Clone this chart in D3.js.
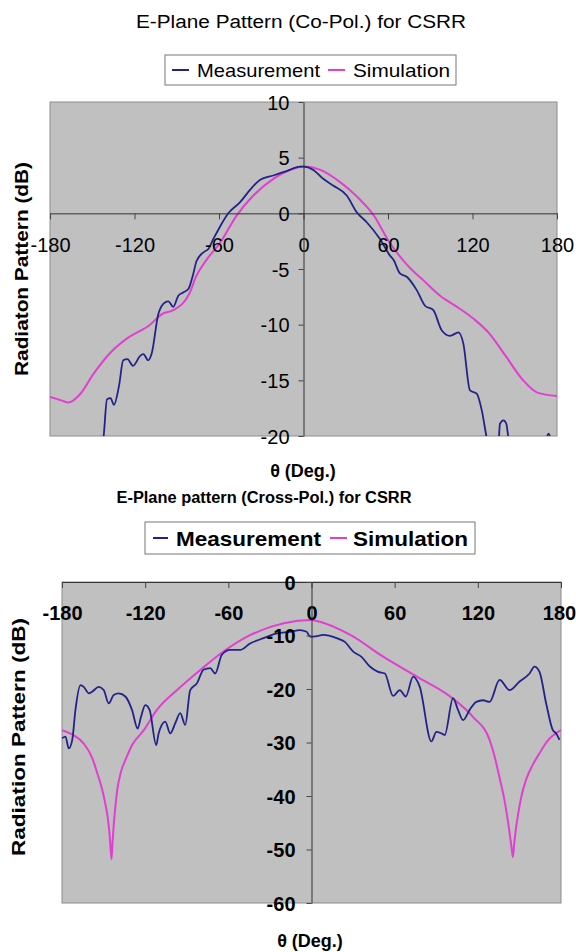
<!DOCTYPE html>
<html><head><meta charset="utf-8">
<script src="https://cdn.jsdelivr.net/npm/d3@7"></script>
<style>
body{margin:0;background:#fff}
svg{display:block}
text{font-family:"Liberation Sans",Arial,sans-serif;fill:#000}
</style>
</head><body>
<svg id="c" width="576" height="952"></svg>
<script>
// ---------- DATA ----------
const xTicks = [-180, -120, -60, 0, 60, 120, 180];
const coYTicks = [10, 5, 0, -5, -10, -15, -20];
const crossYTicks = [0, -10, -20, -30, -40, -50, -60];
const seriesNames = ["Measurement", "Simulation"];

// Co-pol measurement (angle, dB)
const coMeasAngle = [-150, -146, -142, -139.5, -137, -134.6, -131, -128, -125, -121, -116, -113.7, -110.2, -107.8, -103, -98.4, -96, -92.5, -88.9, -85.4, -81.8, -78.2, -76, -71, -67.6, -64, -59.3, -53.4, -45, -38, -31, -21.4, -12, -2.5, 0, 7, 14, 21, 30.7, 37.8, 44.9, 54.3, 61.4, 64, 68.5, 73.3, 80.4, 86.3, 92.2, 98.1, 104, 110, 113.5, 118.2, 123, 126.6, 130, 134, 138.3, 139.5, 142, 144, 145.4, 148, 160, 170, 172, 174, 176, 180];
const coMeasDb = [-25, -22, -20.1, -16.7, -16.6, -17.2, -15.5, -13.2, -13.1, -13.7, -12.8, -12.65, -13.2, -12.6, -9.0, -8.0, -7.9, -8.4, -7.4, -7.1, -6.8, -5.4, -4.3, -3.5, -3.2, -2.3, -1.2, 0.0, 1.0, 2.1, 3.0, 3.4, 3.8, 4.2, 4.2, 3.9, 3.1, 2.5, 1.6, 0.1, -0.8, -2.3, -3.8, -4.2, -5.4, -5.7, -6.9, -8.3, -8.7, -10.5, -11.0, -10.7, -11.7, -15.9, -16.2, -17.7, -20.1, -22, -21, -18.9, -18.6, -18.9, -20.1, -22, -23, -21, -20.4, -19.8, -20.4, -22];

// Co-pol simulation
const coSimAngle = [-180, -172, -167, -159, -149, -137, -126, -109, -100, -92.5, -81, -76, -69, -59, -47.5, -35.6, -21.4, -7, 0, 12, 26, 38, 50, 61, 72, 78, 85, 97, 109, 121, 132, 144, 156, 166, 180];
const coSimDb = [-16.5, -16.8, -17.0, -16.3, -14.4, -12.5, -11.3, -10.0, -9.0, -8.7, -7.2, -5.6, -4.2, -2.6, -0.2, 1.6, 3.1, 4.0, 4.2, 3.9, 2.8, 1.5, -0.2, -2.6, -4.4, -5.2, -6.0, -7.4, -8.4, -9.5, -10.8, -12.9, -15.0, -16.1, -16.4];

// Cross-pol measurement
const crMeasAngle = [-179.9, -177.5, -175.1, -172.6, -170.3, -166.7, -164.3, -160.7, -158.3, -153.5, -149.9, -146.3, -142.7, -139.1, -134.3, -129.5, -125.4, -123, -119.9, -116.8, -112, -110.3, -105.5, -101.9, -98.3, -94.7, -91.1, -87.5, -82.6, -77.9, -73.1, -69.5, -64.7, -58.7, -51.5, -44.3, -34.7, -25, -15.5, -8.3, -3.5, -1, 1.3, 8.5, 18.1, 24.1, 30.1, 36.1, 42.1, 48.1, 52.9, 58.9, 63.7, 68, 73.3, 78.1, 86.5, 90.1, 93.7, 96.1, 102.1, 105.7, 109.3, 114.1, 118.9, 123.7, 128.5, 135.7, 142.9, 150.1, 157.3, 160.9, 164.5, 169.3, 174.1, 176.5, 178.9];
const crMeasDb = [-29.2, -28.9, -31.1, -29.5, -23.9, -19.3, -19.6, -20.8, -20.5, -19.6, -20.2, -22.7, -21.1, -20.8, -21.4, -23.9, -27.4, -25.2, -23.0, -23.9, -30.5, -28.3, -26.1, -28.3, -26.4, -24.5, -26.7, -20.2, -18.9, -16.4, -16.1, -17.1, -13.6, -12.7, -12.7, -11.5, -10.5, -9.6, -9.3, -9.0, -9.3, -10.2, -10.2, -9.9, -10.5, -11.2, -13.0, -14.0, -15.8, -16.8, -17.1, -21.3, -20.2, -21.4, -17.7, -19.6, -29.8, -28.0, -28.3, -28.6, -21.7, -23.9, -25.8, -23.9, -22.4, -22.1, -22.4, -18.3, -20.2, -18.6, -17.1, -15.8, -16.8, -22.7, -27.7, -28.3, -29.5];

// Cross-pol simulation
const crSimAngle = [-180, -172, -164.3, -158, -154.6, -151, -148.7, -147, -146, -145.2, -144.3, -143.5, -142.7, -141.5, -140.2, -137.5, -134.3, -129.5, -121, -111.5, -97, -80, -63.5, -44, -20, 0, 4, 28, 52, 76, 100, 116.5, 128.5, 132, 135.6, 139, 141.6, 143.5, 144.5, 145.3, 146.2, 147.3, 149, 151.5, 155, 160, 164.5, 170, 180];
const crSimDb = [-27.7, -28.6, -30.2, -33.0, -35.7, -38.8, -41.5, -44.0, -46.3, -48.8, -51.8, -48.5, -45.5, -42.0, -39.0, -35.5, -33.3, -30.5, -27.7, -23.9, -20.2, -16.4, -13.0, -9.9, -7.7, -7.1, -7.3, -9.9, -14.0, -17.7, -21.4, -25.2, -29.5, -32.5, -36.5, -40.5, -44.5, -48.0, -50.0, -51.4, -49.0, -46.5, -43.5, -40.0, -36.8, -34.0, -32.0, -29.8, -27.7];

// ---------- DRAW ----------
const measColor = "#22228a";
const simColor = "#e03fd0";
const FONT = '"Liberation Sans",Arial,sans-serif';
const svg = d3.select("#c");
const defs = svg.append("defs");

function pts(a, b) { return a.map((v, i) => [v, b[i]]); }

function chart(o) {
  const x = d3.scaleLinear().domain([-180, 180]).range([o.l, o.r]);
  const y = d3.scaleLinear().domain(o.yDom).range([o.b, o.t]);
  const g = svg.append("g");
  g.append("rect").attr("x", o.l).attr("y", o.t).attr("width", o.r - o.l).attr("height", o.b - o.t)
    .attr("fill", "#c0c0c0").attr("stroke", "#8c8c8c").attr("stroke-width", 1);
  defs.append("clipPath").attr("id", o.id).append("rect")
    .attr("x", o.l).attr("y", o.t).attr("width", o.r - o.l).attr("height", o.b - o.t);

  const line = d3.line().curve(d3.curveMonotoneX).x(d => x(d[0])).y(d => y(d[1]));
  const lg = g.append("g").attr("clip-path", `url(#${o.id})`);
  lg.append("path").datum(pts(o.simA, o.simD)).attr("d", line).attr("fill", "none")
    .attr("stroke", simColor).attr("stroke-width", 2).attr("stroke-linejoin", "round");
  lg.append("path").datum(pts(o.measA, o.measD)).attr("d", line).attr("fill", "none")
    .attr("stroke", measColor).attr("stroke-width", 1.8).attr("stroke-linejoin", "round");

  // x axis
  const xa = g.append("g").attr("transform", `translate(0,${y(o.xAxisAt)})`)
    .call(d3.axisBottom(x).tickValues(xTicks).tickSize(6).tickSizeOuter(0).tickFormat(d => String(d)));
  xa.select(".domain").attr("stroke", "#333");
  xa.selectAll(".tick line").attr("stroke", "#444");
  xa.selectAll(".tick text").attr("y", o.xLabY - y(o.xAxisAt)).attr("dy", 0)
    .attr("dx", d => d === 180 ? o.lastDx : 0)
    .style("font-size", o.tickFS + "px").style("font-weight", o.bold ? "bold" : "normal")
    .style("font-family", FONT).attr("fill", "#000");

  // y axis
  const ya = g.append("g").attr("transform", `translate(${x(0)},0)`)
    .call(d3.axisLeft(y).tickValues(o.yTicks).tickSize(5).tickSizeOuter(0).tickPadding(o.yPad).tickFormat(d => String(d)));
  ya.select(".domain").attr("stroke", "#333");
  ya.selectAll(".tick line").attr("stroke", "#444");
  ya.selectAll(".tick text").style("font-size", o.tickFS + "px").style("font-weight", o.bold ? "bold" : "normal")
    .style("font-family", FONT).attr("fill", "#000").attr("dy", "0.36em");
  return { x, y };
}

// Top chart
svg.append("text").attr("x", 301).attr("y", 28).attr("text-anchor", "middle")
  .style("font-size", "18px").attr("textLength", 330).attr("lengthAdjust", "spacingAndGlyphs")
  .text("E-Plane Pattern (Co-Pol.) for CSRR");

chart({ id: "c1", l: 50, r: 557, t: 102, b: 436, yDom: [-20, 10], xAxisAt: 0, xLabY: 252,
  yTicks: coYTicks, yPad: 9, tickFS: 20, bold: false, lastDx: 0,
  measA: coMeasAngle, measD: coMeasDb, simA: coSimAngle, simD: coSimDb });

// Legend top
svg.append("rect").attr("x", 165).attr("y", 55).attr("width", 291).attr("height", 30)
  .attr("fill", "#fff").attr("stroke", "#777");
svg.append("line").attr("x1", 172).attr("x2", 189).attr("y1", 70).attr("y2", 70).attr("stroke", measColor).attr("stroke-width", 2);
svg.append("text").attr("x", 197).attr("y", 77).style("font-size", "19px")
  .attr("textLength", 123).attr("lengthAdjust", "spacingAndGlyphs").text(seriesNames[0]);
svg.append("line").attr("x1", 328).attr("x2", 345).attr("y1", 70).attr("y2", 70).attr("stroke", simColor).attr("stroke-width", 2);
svg.append("text").attr("x", 353).attr("y", 77).style("font-size", "19px")
  .attr("textLength", 97).attr("lengthAdjust", "spacingAndGlyphs").text(seriesNames[1]);

// Axis titles top
svg.append("text").attr("transform", "translate(28,269) rotate(-90)").attr("text-anchor", "middle")
  .style("font-size", "18px").style("font-weight", "bold")
  .attr("textLength", 214).attr("lengthAdjust", "spacingAndGlyphs").text("Radiaton Pattern (dB)");
svg.append("text").attr("x", 303).attr("y", 477).attr("text-anchor", "middle")
  .style("font-size", "18px").style("font-weight", "bold").text("θ (Deg.)");

// Bottom title
svg.append("text").attr("x", 264).attr("y", 503).attr("text-anchor", "middle")
  .style("font-size", "16px").style("font-weight", "bold")
  .attr("textLength", 295).attr("lengthAdjust", "spacingAndGlyphs").text("E-Plane pattern (Cross-Pol.) for CSRR");

// Legend bottom
svg.append("rect").attr("x", 145).attr("y", 522).attr("width", 330).attr("height", 32)
  .attr("fill", "#fff").attr("stroke", "#777");
svg.append("line").attr("x1", 153).attr("x2", 168).attr("y1", 538).attr("y2", 538).attr("stroke", measColor).attr("stroke-width", 2);
svg.append("text").attr("x", 176).attr("y", 546).style("font-size", "21px").style("font-weight", "bold")
  .attr("textLength", 145).attr("lengthAdjust", "spacingAndGlyphs").text(seriesNames[0]);
svg.append("line").attr("x1", 330).attr("x2", 347).attr("y1", 538).attr("y2", 538).attr("stroke", simColor).attr("stroke-width", 2);
svg.append("text").attr("x", 353).attr("y", 546).style("font-size", "21px").style("font-weight", "bold")
  .attr("textLength", 115).attr("lengthAdjust", "spacingAndGlyphs").text(seriesNames[1]);

// Bottom chart
chart({ id: "c2", l: 62, r: 561, t: 582, b: 903, yDom: [-60, 0], xAxisAt: 0, xLabY: 620,
  yTicks: crossYTicks, yPad: 11, tickFS: 20, bold: true, lastDx: -2,
  measA: crMeasAngle, measD: crMeasDb, simA: crSimAngle, simD: crSimDb });

svg.append("text").attr("transform", "translate(25,737) rotate(-90)").attr("text-anchor", "middle")
  .style("font-size", "19px").style("font-weight", "bold")
  .attr("textLength", 238).attr("lengthAdjust", "spacingAndGlyphs").text("Radiation Pattern (dB)");
svg.append("text").attr("x", 310).attr("y", 947).attr("text-anchor", "middle")
  .style("font-size", "18px").style("font-weight", "bold").text("θ (Deg.)");
</script>
</body></html>
